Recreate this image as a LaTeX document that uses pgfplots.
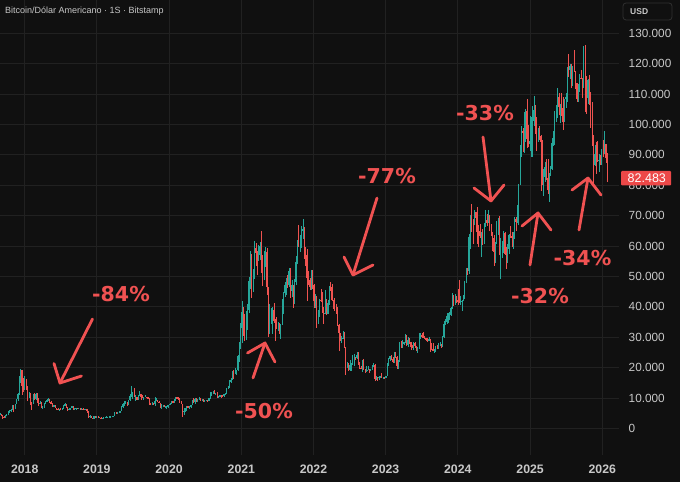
\documentclass[border=0pt]{standalone}
\usepackage{fontspec}
\setmainfont{Liberation Sans}
\newfontfamily\annfont{DejaVu Sans}
\usepackage{pgfplots}
\pgfplotsset{compat=1.18}
\usepackage{pgfplotstable}
\definecolor{bg}{RGB}{16,16,16}
\definecolor{gridc}{RGB}{33,33,33}
\definecolor{upc}{RGB}{38,166,154}
\definecolor{dnc}{RGB}{239,83,80}
\definecolor{ann}{RGB}{240,82,82}
\definecolor{txt}{RGB}{200,200,200}
\definecolor{boxc}{RGB}{48,48,48}
\definecolor{pricec}{RGB}{236,72,72}

\pgfplotstableread{
w o h l c
-18 4.38 4.98 4.33 4.60
-17 4.60 4.70 4.06 4.20
-16 4.20 4.38 2.97 3.70
-15 3.70 4.10 3.50 3.63
-14 3.63 4.40 3.60 4.40
-13 4.40 4.62 4.16 4.61
-12 4.61 5.86 4.57 5.70
-11 5.70 6.19 5.11 5.98
-10 5.98 6.32 5.45 6.13
-9 6.13 7.60 6.10 7.36
-8 7.36 7.88 5.51 6.56
-7 6.56 8.20 6.45 8.00
-6 8.00 9.70 7.90 9.65
-5 9.65 11.8 9.20 11.3
-4 11.3 17.2 11.1 15.1
-3 15.1 19.7 15.0 19.1
-2 19.1 19.2 11.0 13.9
-1 13.9 16.5 12.0 13.8
0 13.8 17.2 12.8 16.2
1 16.2 16.3 12.6 13.6
2 13.6 14.1 9.0 11.5
3 11.5 12.0 10.0 11.5
4 11.5 11.7 7.8 8.2
5 8.2 8.8 6.0 8.1
6 8.1 11.2 8.0 11.0
7 11.0 11.8 9.3 9.7
8 9.7 11.6 9.4 11.5
9 11.5 11.7 8.4 9.5
10 9.5 9.9 7.3 8.2
11 8.2 9.2 8.0 8.5
12 8.5 8.6 6.6 6.9
13 6.9 7.5 6.4 6.9
14 6.9 8.4 6.6 8.3
15 8.3 9.0 7.9 8.9
16 8.9 9.7 8.8 9.3
17 9.3 9.9 9.0 9.6
18 9.6 9.7 8.4 8.6
19 8.6 8.9 8.0 8.1
20 8.1 8.4 7.1 7.4
21 7.4 7.8 7.1 7.6
22 7.6 7.8 6.7 6.8
23 6.8 6.8 6.3 6.5
24 6.5 6.8 6.0 6.2
25 6.2 6.5 5.8 6.4
26 6.4 6.8 6.2 6.3
27 6.3 6.8 6.1 6.4
28 6.4 7.6 6.3 7.4
29 7.4 8.5 7.4 8.2
30 8.2 8.2 6.9 7.0
31 7.0 7.2 5.9 6.3
32 6.3 6.6 6.0 6.4
33 6.4 6.9 6.2 6.7
34 6.7 7.4 6.7 7.3
35 7.3 7.4 6.2 6.5
36 6.5 6.6 6.2 6.5
37 6.5 6.8 6.1 6.7
38 6.7 6.9 6.4 6.6
39 6.6 6.7 6.5 6.6
40 6.6 6.7 6.2 6.4
41 6.4 6.9 6.4 6.5
42 6.5 6.6 6.4 6.4
43 6.4 6.5 6.3 6.4
44 6.4 6.5 6.3 6.4
45 6.4 6.4 5.2 5.6
46 5.6 5.6 3.6 4.0
47 4.0 4.4 3.6 4.1
48 4.1 4.2 3.4 3.6
49 3.6 3.6 3.2 3.2
50 3.2 4.2 3.2 4.0
51 4.0 4.2 3.6 3.9
52 3.9 4.1 3.7 4.0
53 4.0 4.1 3.5 3.6
54 3.6 3.8 3.5 3.6
55 3.6 3.7 3.5 3.5
56 3.5 3.6 3.4 3.5
57 3.5 3.7 3.4 3.7
58 3.7 3.7 3.6 3.7
59 3.7 4.2 3.7 3.9
60 3.9 3.9 3.7 3.9
61 3.9 4.0 3.7 4.0
62 4.0 4.0 3.8 4.0
63 4.0 4.1 3.9 4.0
64 4.0 4.2 3.9 4.1
65 4.1 5.3 4.1 5.2
66 5.2 5.4 4.9 5.1
67 5.1 5.4 5.0 5.3
68 5.3 5.6 5.1 5.3
69 5.3 5.9 5.2 5.8
70 5.8 7.4 5.7 7.0
71 7.0 8.3 6.6 8.1
72 8.1 8.9 7.5 8.7
73 8.7 9.1 8.1 8.7
74 8.7 8.8 7.5 8.0
75 8.0 9.4 7.6 9.3
76 9.3 11.2 9.0 10.8
77 10.8 13.9 10.4 10.8
78 10.8 12.0 9.8 11.5
79 11.5 13.2 10.2 10.2
80 10.2 10.9 9.1 10.3
81 10.3 10.4 9.4 9.5
82 9.5 11.1 9.4 10.9
83 10.9 12.3 10.8 11.3
84 11.3 11.4 9.5 10.3
85 10.3 10.9 9.9 10.1
86 10.1 10.5 9.3 10.4
87 10.4 10.9 10.3 10.4
88 10.4 10.5 10.1 10.3
89 10.3 10.3 9.6 10.0
90 10.0 10.1 7.8 8.2
91 8.2 8.5 7.7 7.9
92 7.9 8.8 7.8 8.3
93 8.3 8.4 7.8 8.2
94 8.2 10.4 7.3 9.2
95 9.2 9.9 9.0 9.2
96 9.2 9.5 8.7 8.8
97 8.8 9.1 8.4 8.5
98 8.5 8.5 6.8 7.4
99 7.4 7.9 6.5 7.5
100 7.5 7.7 7.1 7.5
101 7.5 7.6 7.0 7.1
102 7.1 7.5 6.4 7.3
103 7.3 7.6 7.0 7.3
104 7.3 7.8 6.9 7.8
105 7.8 8.4 7.7 8.2
106 8.2 9.0 8.1 8.9
107 8.9 8.9 8.3 8.6
108 8.6 9.6 8.5 9.3
109 9.3 10.2 9.1 10.2
110 10.2 10.5 9.7 9.9
111 9.9 10.2 9.3 9.7
112 9.7 9.9 8.5 8.5
113 8.5 9.2 8.0 8.0
114 8.0 8.2 3.8 5.4
115 5.4 6.9 4.5 5.8
116 5.8 6.9 5.7 5.9
117 5.9 7.3 5.9 7.3
118 7.3 7.5 6.7 6.9
119 6.9 7.3 6.5 7.1
120 7.1 7.7 6.8 7.7
121 7.7 9.5 7.7 8.9
122 8.9 10.0 8.5 8.7
123 8.7 9.9 8.2 9.7
124 9.7 9.9 8.7 8.7
125 8.7 9.7 8.6 9.4
126 9.4 10.4 9.3 9.7
127 9.7 9.9 9.1 9.3
128 9.3 9.6 9.2 9.3
129 9.3 9.8 8.9 9.0
130 9.0 9.3 8.9 9.3
131 9.3 9.4 9.1 9.3
132 9.3 9.3 9.1 9.2
133 9.2 10.0 9.1 9.9
134 9.9 12.0 9.8 11.8
135 11.8 12.0 10.7 11.9
136 11.9 12.2 11.4 11.9
137 11.9 12.5 11.5 11.7
138 11.7 11.8 11.1 11.7
139 11.7 12.1 10.0 10.3
140 10.3 10.6 9.9 10.3
141 10.3 11.1 10.2 11.0
142 11.0 11.0 10.1 10.8
143 10.8 10.9 10.4 10.7
144 10.7 11.5 10.5 11.4
145 11.4 11.7 11.2 11.5
146 11.5 13.3 11.4 13.0
147 13.0 14.1 12.9 13.8
148 13.8 15.9 13.3 15.5
149 15.5 16.5 15.1 16.0
150 16.0 18.8 15.9 18.4
151 18.4 19.4 16.2 18.2
152 18.2 19.9 18.0 19.1
153 19.1 19.4 17.6 19.2
154 19.2 24.3 19.0 23.7
155 23.7 28.4 22.0 26.4
156 26.4 34.8 26.0 33.0
157 33.0 41.9 28.1 38.2
158 38.2 40.1 30.4 35.8
159 35.8 37.8 28.8 32.3
160 32.3 38.6 29.2 33.1
161 33.1 40.9 32.3 38.9
162 38.9 49.7 38.1 48.6
163 48.6 58.3 46.0 57.5
164 57.5 57.5 43.0 45.2
165 45.2 52.6 45.0 51.2
166 51.2 61.8 49.3 59.4
167 59.4 61.0 53.3 57.6
168 57.6 58.4 50.5 55.8
169 55.8 60.2 55.0 57.1
170 57.1 61.3 55.5 60.0
171 60.0 64.9 51.0 56.2
172 56.2 57.0 47.0 49.0
173 49.0 58.5 48.8 56.6
174 56.6 59.6 53.0 58.2
175 58.2 59.5 43.8 46.4
176 46.4 46.6 30.0 34.7
177 34.7 40.9 31.1 35.7
178 35.7 39.5 34.3 35.8
179 35.8 40.0 31.0 39.1
180 39.1 41.3 34.8 35.5
181 35.5 36.0 28.8 34.7
182 34.7 36.6 32.7 34.2
183 34.2 35.1 32.2 34.2
184 34.2 34.6 31.2 31.8
185 31.8 34.5 29.4 34.2
186 34.2 42.6 34.2 39.9
187 39.9 44.8 37.5 44.6
188 44.6 48.1 43.3 47.1
189 47.1 49.4 43.9 48.9
190 48.9 50.5 46.3 47.2
191 47.2 52.9 46.6 51.8
192 51.8 52.9 42.8 45.2
193 45.2 48.8 43.4 47.3
194 47.3 47.3 39.6 42.7
195 42.7 49.2 40.8 48.2
196 48.2 56.6 47.1 54.9
197 54.9 62.0 54.2 61.5
198 61.5 67.0 59.6 60.9
199 60.9 63.7 58.0 61.3
200 61.3 66.6 59.5 64.9
201 64.9 69.0 62.3 65.5
202 65.5 66.3 55.6 59.7
203 59.7 59.8 53.5 57.2
204 57.2 59.0 42.0 49.4
205 49.4 51.9 47.3 48.9
206 48.9 49.5 45.7 46.7
207 46.7 52.1 45.6 50.8
208 50.8 52.0 45.9 47.3
209 47.3 47.6 39.6 41.8
210 41.8 44.4 39.7 43.1
211 43.1 43.5 33.0 36.3
212 36.3 38.9 34.3 38.5
213 38.5 42.6 36.6 42.4
214 42.4 45.8 41.6 42.2
215 42.2 44.8 38.0 38.4
216 38.4 39.9 34.3 37.7
217 37.7 45.4 37.5 38.1
218 38.1 42.5 37.2 37.8
219 37.8 42.3 37.6 41.3
220 41.3 47.0 40.5 46.8
221 46.8 48.2 45.3 46.4
222 46.4 47.5 42.0 42.2
223 42.2 42.4 39.2 40.4
224 40.4 42.9 38.5 39.5
225 39.5 40.8 37.7 38.5
226 38.5 40.0 33.7 34.0
227 34.0 34.3 25.4 31.3
228 31.3 31.3 28.7 29.4
229 29.4 30.5 28.0 29.4
230 29.4 32.2 29.3 29.9
231 29.9 31.7 26.6 26.6
232 26.6 26.9 17.6 20.6
233 20.6 21.9 19.8 21.5
234 21.5 21.5 18.8 19.3
235 19.3 22.5 19.0 20.8
236 20.8 21.6 18.9 21.2
237 21.2 24.3 21.0 22.6
238 22.6 24.6 20.7 23.3
239 23.3 23.6 22.4 23.2
240 23.2 25.2 22.7 24.3
241 24.3 25.2 20.8 21.5
242 21.5 22.0 19.5 20.0
243 20.0 20.6 19.6 19.8
244 19.8 22.6 18.5 21.8
245 21.8 22.7 19.3 19.4
246 19.4 19.7 18.1 18.9
247 18.9 20.4 18.5 19.3
248 19.3 20.5 19.1 19.4
249 19.4 19.5 18.2 19.2
250 19.2 19.7 18.9 19.6
251 19.6 21.0 19.2 20.6
252 20.6 21.5 20.1 21.0
253 21.0 21.3 15.6 16.3
254 16.3 17.2 15.8 16.7
255 16.7 16.8 15.5 16.5
256 16.5 17.4 16.0 17.1
257 17.1 17.4 16.8 17.1
258 17.1 18.4 16.5 16.7
259 16.7 17.0 16.4 16.8
260 16.8 16.9 16.4 16.7
261 16.7 17.4 16.6 17.2
262 17.2 21.4 17.2 20.9
263 20.9 23.1 20.4 22.8
264 22.8 23.8 22.3 23.7
265 23.7 24.2 22.5 22.9
266 22.9 23.4 21.4 21.8
267 21.8 25.2 21.4 24.6
268 24.6 25.1 23.1 23.6
269 23.6 23.9 19.6 20.6
270 20.6 22.6 19.6 22.1
271 22.1 28.4 21.9 28.0
272 28.0 28.8 26.6 27.5
273 27.5 29.2 26.5 28.0
274 28.0 28.6 27.3 28.3
275 28.3 31.0 28.2 30.3
276 30.3 30.6 27.2 27.6
277 27.6 30.0 26.9 29.2
278 29.2 29.8 27.7 28.4
279 28.4 28.6 25.8 26.9
280 26.9 27.6 26.4 26.8
281 26.8 28.3 25.9 28.1
282 28.1 28.4 26.6 27.1
283 27.1 27.2 25.4 25.9
284 25.9 26.8 24.8 26.3
285 26.3 31.4 26.3 30.5
286 30.5 31.3 29.5 30.6
287 30.6 31.5 29.7 30.3
288 30.3 31.8 29.9 30.2
289 30.2 30.4 29.5 29.9
290 29.9 29.9 28.9 29.3
291 29.3 29.7 28.6 29.0
292 29.0 30.2 28.7 29.4
293 29.4 29.6 25.2 26.1
294 26.1 28.1 25.8 26.0
295 26.0 28.2 25.4 25.8
296 25.8 26.1 24.9 25.8
297 25.8 27.0 25.1 26.5
298 26.5 27.5 26.0 26.3
299 26.3 28.1 26.1 27.9
300 27.9 28.6 27.2 27.9
301 27.9 27.9 26.5 26.9
302 26.9 30.4 26.8 30.0
303 30.0 35.2 29.8 34.5
304 34.5 35.9 34.1 35.0
305 35.0 38.0 34.5 37.1
306 37.1 37.9 34.8 37.4
307 37.4 38.4 35.6 37.4
308 37.4 40.0 37.0 39.5
309 39.5 44.7 39.4 43.8
310 43.8 44.0 40.2 41.4
311 41.4 44.4 40.6 43.0
312 43.0 43.7 41.4 42.3
313 42.3 45.9 40.7 41.7
314 41.7 49.0 41.5 41.6
315 41.6 43.6 40.6 41.6
316 41.6 42.2 38.5 42.0
317 42.0 43.9 41.8 43.0
318 43.0 48.6 42.6 48.3
319 48.3 52.8 48.0 52.1
320 52.1 52.9 50.6 51.7
321 51.7 64.0 50.9 63.1
322 63.1 70.1 59.0 68.9
323 68.9 73.8 64.6 68.4
324 68.4 68.9 60.8 67.2
325 67.2 71.8 66.8 71.3
326 71.3 71.3 64.5 69.4
327 69.4 72.8 60.7 65.7
328 65.7 66.9 59.6 64.9
329 64.9 67.2 62.8 63.4
330 63.4 64.7 56.5 64.0
331 64.0 65.5 60.2 61.5
332 61.5 67.7 60.8 66.3
333 66.3 71.9 66.3 68.5
334 68.5 70.6 66.7 67.7
335 67.7 71.9 67.6 69.6
336 69.6 70.2 65.1 66.2
337 66.2 67.2 63.4 64.2
338 64.2 64.5 58.4 62.7
339 62.7 63.8 53.5 58.0
340 58.0 61.3 54.3 60.8
341 60.8 68.4 60.6 68.2
342 68.2 69.4 63.5 68.2
343 68.2 70.0 57.2 58.1
344 58.1 62.8 49.2 58.7
345 58.7 61.8 56.1 58.9
346 58.9 65.0 57.8 64.2
347 64.2 64.5 57.2 57.3
348 57.3 59.8 52.6 54.8
349 54.8 60.7 54.6 59.1
350 59.1 64.1 57.5 63.6
351 63.6 66.5 62.7 63.3
352 63.3 64.5 59.8 62.8
353 62.8 64.5 58.9 62.9
354 62.9 69.5 62.4 69.0
355 69.0 69.5 65.1 68.0
356 68.0 73.6 67.5 68.7
357 68.7 80.4 66.8 80.4
358 80.4 93.4 80.2 90.5
359 90.5 99.6 89.4 97.7
360 97.7 98.7 90.8 97.3
361 97.3 104.0 90.5 101.2
362 101.2 105.2 94.2 104.5
363 104.5 108.4 92.2 95.2
364 95.2 99.9 92.5 93.7
365 93.7 102.7 91.2 94.5
366 94.5 102.5 89.2 94.5
367 94.5 106.0 89.3 101.3
368 101.3 109.4 99.5 104.7
369 104.7 106.5 97.0 97.7
370 97.7 102.5 91.2 96.5
371 96.5 98.8 94.1 97.5
372 97.5 99.5 94.9 96.1
373 96.1 96.5 78.2 94.2
374 94.2 95.0 80.0 80.7
375 80.7 85.3 76.6 82.6
376 82.6 87.5 81.2 86.1
377 86.1 88.8 81.7 82.3
378 82.3 88.5 77.2 78.4
379 78.4 83.9 74.6 83.8
380 83.8 86.5 83.1 85.2
381 85.2 95.7 85.1 94.0
382 94.0 97.9 92.8 94.3
383 94.3 104.3 93.4 104.1
384 104.1 106.5 100.7 106.0
385 106.0 111.9 102.1 109.0
386 109.0 110.4 103.1 105.6
387 105.6 106.8 100.4 105.6
388 105.6 110.5 102.7 105.5
389 105.5 108.9 98.2 100.9
390 100.9 108.5 100.9 108.3
391 108.3 110.5 105.3 109.2
392 109.2 119.0 107.4 119.0
393 119.0 123.2 115.7 117.9
394 117.9 120.0 114.8 119.4
395 119.4 119.9 112.0 114.2
396 114.2 119.3 112.7 119.3
397 119.3 124.5 117.2 117.4
398 117.4 117.6 111.7 113.5
399 113.5 113.5 107.3 108.3
400 108.3 113.4 107.3 111.2
401 111.2 116.7 110.6 115.3
402 115.3 117.9 114.8 115.2
403 115.2 115.4 108.6 112.2
404 112.2 125.7 112.0 123.5
405 123.5 126.2 104.0 115.1
406 115.1 116.0 103.5 108.6
407 108.6 114.8 106.7 114.5
408 114.5 116.4 106.3 110.6
409 110.6 110.6 98.9 104.7
410 104.7 107.5 93.0 94.4
411 94.4 96.6 80.6 86.8
412 86.8 93.1 86.2 90.4
413 90.4 94.2 83.8 88.4
414 88.4 94.6 87.6 88.2
415 88.2 90.4 84.4 88.4
416 88.4 90.0 86.6 87.7
417 87.7 91.8 86.8 90.9
418 90.9 94.8 89.3 90.6
419 90.6 97.9 90.4 93.6
420 93.6 93.6 87.3 89.1
421 89.1 90.5 81.1 82.5
}\btc

\begin{document}
\begin{tikzpicture}
\useasboundingbox (0pt,0pt) rectangle (680pt,482pt);
\fill[bg] (0pt,0pt) rectangle (680pt,482pt);
\begin{axis}[
  at={(0pt,27pt)}, anchor=south west,
  scale only axis, width=619pt, height=455pt,
  xmin=-17.85, xmax=429.5, ymin=-8.72, ymax=140.95,
  axis line style={draw=none},
  tick style={draw=none}, major tick length=0pt,
  xmajorgrids, ymajorgrids,
  grid style={draw=gridc, line width=0.8pt},
  xtick={0,52.14,104.29,156.57,208.71,260.86,313,365.29,417.43},
  xticklabels={2018,2019,2020,2021,2022,2023,2024,2025,2026},
  ytick={0,10,20,30,40,50,60,70,80,90,100,110,120,130},
  yticklabels={0,10.000,20.000,30.000,40.000,50.000,60.000,70.000,80.000,90.000,100.000,110.000,120.000,130.000},
  yticklabel pos=right,
  y tick label style={anchor=west, inner sep=0pt, xshift=9.5pt, text=txt, font=\fontsize{11.8}{12}\selectfont},
  x tick label style={anchor=center, inner sep=0pt, yshift=-14pt, text=txt, font=\fontsize{12.3}{13}\selectfont\bfseries},
  restrict y to domain=-500:1000,
]
% up wicks
\addplot[draw=none, mark=none, forget plot,
  error bars/.cd, y dir=both, y explicit, error mark=none,
  error bar style={draw=upc, line width=0.45pt}]
  table[x=w, y expr={\thisrow{c}>=\thisrow{o} ? 0.5*(\thisrow{h}+\thisrow{l}) : -999},
        y error expr={0.5*(\thisrow{h}-\thisrow{l})}] {\btc};
% down wicks
\addplot[draw=none, mark=none, forget plot,
  error bars/.cd, y dir=both, y explicit, error mark=none,
  error bar style={draw=dnc, line width=0.45pt}]
  table[x=w, y expr={\thisrow{c}<\thisrow{o} ? 0.5*(\thisrow{h}+\thisrow{l}) : -999},
        y error expr={0.5*(\thisrow{h}-\thisrow{l})}] {\btc};
% up bodies
\addplot[draw=none, mark=none, forget plot,
  error bars/.cd, y dir=both, y explicit, error mark=none,
  error bar style={draw=upc, line width=1.0pt, line cap=butt}]
  table[x=w, y expr={\thisrow{c}>=\thisrow{o} ? 0.5*(\thisrow{o}+\thisrow{c}) : -999},
        y error expr={0.5*abs(\thisrow{c}-\thisrow{o})}] {\btc};
% down bodies
\addplot[draw=none, mark=none, forget plot,
  error bars/.cd, y dir=both, y explicit, error mark=none,
  error bar style={draw=dnc, line width=1.0pt, line cap=butt}]
  table[x=w, y expr={\thisrow{c}<\thisrow{o} ? 0.5*(\thisrow{o}+\thisrow{c}) : -999},
        y error expr={0.5*abs(\thisrow{c}-\thisrow{o})}] {\btc};
\end{axis}

\begin{scope}[x=1pt, y=1pt, shift={(0pt,482pt)}, yscale=-1]
  % title
  \node[anchor=west, inner sep=0pt, text=txt, font=\fontsize{9}{11}\selectfont] at (5,11) {Bitcoin/Dólar Americano · 1S · Bitstamp};
  % USD box
  \draw[boxc, line width=0.8pt, rounded corners=3pt] (623,3) rectangle (672,20);
  \node[anchor=west, inner sep=0pt, text=txt, font=\fontsize{8.5}{10}\selectfont\bfseries] at (630,11.5) {USD};
  % price box
  \fill[pricec, rounded corners=1pt] (621,171) rectangle (671,185.5);
  \node[anchor=west, inner sep=0pt, text=white, font=\fontsize{12.5}{13}\selectfont] at (627.5,178.3) {82.483};
  % annotations
  \tikzset{arr/.style={draw=ann, line width=2.8pt, line cap=round, line join=round}}
  \tikzset{lab/.style={text=ann, inner sep=0pt, font=\annfont\bfseries\fontsize{20.5}{22}\selectfont}}
  % -84%
  \draw[arr] (92.5,319) -- (60,383);
  \draw[arr] (54,363.5) -- (60,383) -- (81.5,376);
  \node[lab] at (121,294) {-84\%};
  % -50%
  \draw[arr] (253,378) -- (265,343);
  \draw[arr] (247.5,353) -- (265,343) -- (275,362);
  \node[lab] at (264,411.5) {-50\%};
  % -77%
  \draw[arr] (377,198) -- (353,275);
  \draw[arr] (344,257) -- (353,275) -- (373,265);
  \node[lab] at (387,176) {-77\%};
  % -33%
  \draw[arr] (483,137) -- (491,201);
  \draw[arr] (474,188) -- (491,201) -- (504,185);
  \node[lab] at (485,112.7) {-33\%};
  % -32%
  \draw[arr] (530,265) -- (538,213);
  \draw[arr] (522,226) -- (538,213) -- (551,230);
  \node[lab] at (540,296) {-32\%};
  % -34%
  \draw[arr] (579,230) -- (588,178);
  \draw[arr] (572,190) -- (588,178) -- (601,195);
  \node[lab] at (582.5,258) {-34\%};
\end{scope}
\end{tikzpicture}
\end{document}
